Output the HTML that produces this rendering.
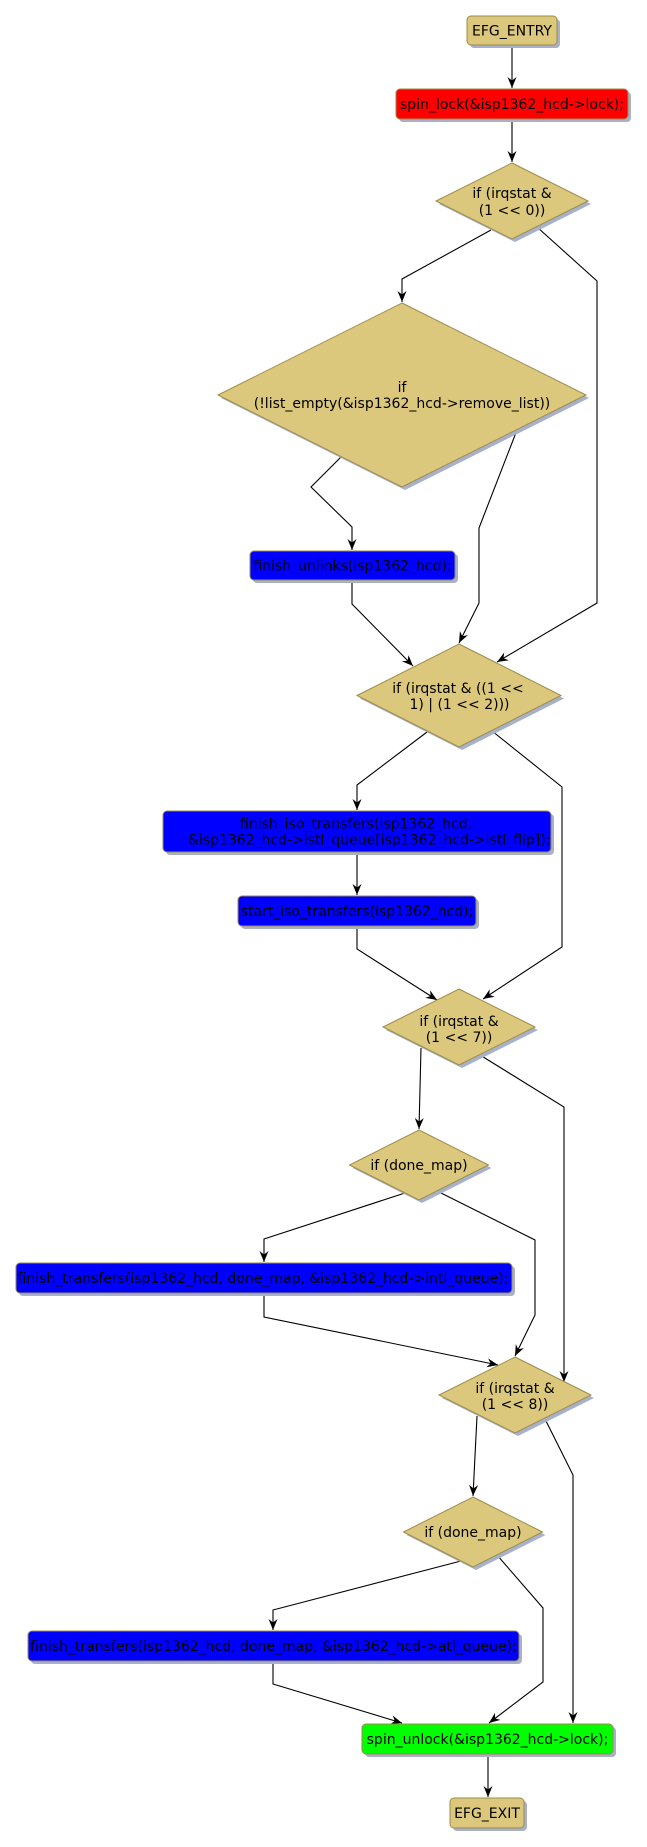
<!DOCTYPE html>
<html>
<head>
<meta charset="utf-8">
<style>
  html, body { margin: 0; padding: 0; background: #ffffff; }
  svg { display: block; }
  text { font-family: "DejaVu Sans", "Liberation Sans", sans-serif; font-size: 14px; fill: #000; }
  .sh { fill: #a7b1cc; stroke: none; }
  .kh { fill: #dbc87c; stroke: #9e8b47; stroke-width: 1; }
  .rd { fill: #ff0000; stroke: #9e8b47; stroke-width: 1; }
  .bl { fill: #0000ff; stroke: #9e8b47; stroke-width: 1; }
  .gr { fill: #00ff00; stroke: #9e8b47; stroke-width: 1; }
  .e { fill: none; stroke: #000; stroke-width: 1.1; marker-end: url(#ah); }
</style>
</head>
<body>
<svg width="647" height="1847" viewBox="0 0 647 1847" xmlns="http://www.w3.org/2000/svg">
  <defs>
    <marker id="ah" markerUnits="userSpaceOnUse" markerWidth="12" markerHeight="10" refX="11" refY="4.5" orient="auto">
      <path d="M0,0 L11,4.5 L0,9 L3.5,4.5 Z" fill="#000"/>
    </marker>
  </defs>

  <!-- Edges -->
  <polyline class="e" points="512,45 512,88"/>
  <polyline class="e" points="512,119 512,162"/>
  <polyline class="e" points="491,230 402,279 402,302"/>
  <polyline class="e" points="537,227 597,281 597,603 497,662"/>
  <polyline class="e" points="341,457 311,487 352,527 352,550"/>
  <polyline class="e" points="517,430 479,528 479,603 459,643"/>
  <polyline class="e" points="352,580 352,604 413,666"/>
  <polyline class="e" points="427,732 357,785 357,810"/>
  <polyline class="e" points="492,731 562,787 562,947 483,999"/>
  <polyline class="e" points="357,852 357,895"/>
  <polyline class="e" points="357,926 357,949 437,1000"/>
  <polyline class="e" points="421,1048 419,1129"/>
  <polyline class="e" points="480,1055 564,1107 564,1382"/>
  <polyline class="e" points="405,1193 264,1239 264,1262"/>
  <polyline class="e" points="437,1191 535,1240 535,1315 515,1356"/>
  <polyline class="e" points="264,1293 264,1317 498,1365"/>
  <polyline class="e" points="477,1416 473,1496"/>
  <polyline class="e" points="545,1419 573,1475 573,1723"/>
  <polyline class="e" points="461,1561 273,1610 273,1630"/>
  <polyline class="e" points="497,1555 543,1608 543,1682 489,1723"/>
  <polyline class="e" points="273,1661 273,1684 402,1723"/>
  <polyline class="e" points="488,1754 488,1797"/>

  <!-- EFG_ENTRY -->
  <rect class="sh" x="470" y="19" width="90" height="29" rx="4"/>
  <rect class="kh" x="467" y="16" width="90" height="29" rx="4"/>
  <text x="512" y="35.5" text-anchor="middle">EFG_ENTRY</text>

  <!-- spin_lock -->
  <rect class="sh" x="399" y="92" width="232" height="30" rx="4"/>
  <rect class="rd" x="396" y="89" width="232" height="30" rx="4"/>
  <text x="512" y="109" text-anchor="middle">spin_lock(&amp;isp1362_hcd-&gt;lock);</text>

  <!-- Diamond 1 -->
  <polygon class="sh" points="515,166 591,204 515,242 439,204"/>
  <polygon class="kh" points="512,163 588,201 512,239 436,201"/>
  <text x="512" y="198" text-anchor="middle">if (irqstat &amp;</text>
  <text x="512" y="215" text-anchor="middle">(1 &lt;&lt; 0))</text>

  <!-- Diamond 2 -->
  <polygon class="sh" points="405,306 589,398 405,490 221,398"/>
  <polygon class="kh" points="402,303 586,395 402,487 218,395"/>
  <text x="402" y="392" text-anchor="middle">if</text>
  <text x="402" y="408" text-anchor="middle">(!list_empty(&amp;isp1362_hcd-&gt;remove_list))</text>

  <!-- finish_unlinks -->
  <rect class="sh" x="253" y="554" width="205" height="29" rx="4"/>
  <rect class="bl" x="250" y="551" width="205" height="29" rx="4"/>
  <text x="352.5" y="570.5" text-anchor="middle">finish_unlinks(isp1362_hcd);</text>

  <!-- Diamond 3 -->
  <polygon class="sh" points="462,647 564,698.5 462,750 360,698.5"/>
  <polygon class="kh" points="459,644 561,695.5 459,747 357,695.5"/>
  <text x="458" y="693" text-anchor="middle">if (irqstat &amp; ((1 &lt;&lt;</text>
  <text x="459.5" y="709" text-anchor="middle">1) | (1 &lt;&lt; 2)))</text>

  <!-- finish_iso_transfers -->
  <rect class="sh" x="166" y="814" width="388" height="41" rx="4"/>
  <rect class="bl" x="163" y="811" width="388" height="41" rx="4"/>
  <text x="356" y="828.5" text-anchor="middle">finish_iso_transfers(isp1362_hcd,</text>
  <text x="188" y="844.5">&amp;isp1362_hcd-&gt;istl_queue[isp1362_hcd-&gt;istl_flip]);</text>

  <!-- start_iso_transfers -->
  <rect class="sh" x="241" y="899" width="238" height="30" rx="4"/>
  <rect class="bl" x="238" y="896" width="238" height="30" rx="4"/>
  <text x="357" y="916" text-anchor="middle">start_iso_transfers(isp1362_hcd);</text>

  <!-- Diamond 4 -->
  <polygon class="sh" points="462,992 538,1030 462,1068 386,1030"/>
  <polygon class="kh" points="459,989 535,1027 459,1065 383,1027"/>
  <text x="459" y="1026" text-anchor="middle">if (irqstat &amp;</text>
  <text x="459" y="1042" text-anchor="middle">(1 &lt;&lt; 7))</text>

  <!-- Diamond 5 -->
  <polygon class="sh" points="422,1133 491.5,1168 422,1203 352.5,1168"/>
  <polygon class="kh" points="419,1130 488.5,1165 419,1200 349.5,1165"/>
  <text x="419" y="1170" text-anchor="middle">if (done_map)</text>

  <!-- finish_transfers intl -->
  <rect class="sh" x="19" y="1266" width="496" height="30" rx="4"/>
  <rect class="bl" x="16" y="1263" width="496" height="30" rx="4"/>
  <text x="263" y="1283" text-anchor="middle">finish_transfers(isp1362_hcd, done_map, &amp;isp1362_hcd-&gt;intl_queue);</text>

  <!-- Diamond 6 -->
  <polygon class="sh" points="518,1360 594,1398 518,1436 442,1398"/>
  <polygon class="kh" points="515,1357 591,1395 515,1433 439,1395"/>
  <text x="515" y="1393" text-anchor="middle">if (irqstat &amp;</text>
  <text x="515" y="1409" text-anchor="middle">(1 &lt;&lt; 8))</text>

  <!-- Diamond 7 -->
  <polygon class="sh" points="476,1500 545.5,1535 476,1570 406.5,1535"/>
  <polygon class="kh" points="473,1497 542.5,1532 473,1567 403.5,1532"/>
  <text x="473" y="1537" text-anchor="middle">if (done_map)</text>

  <!-- finish_transfers atl -->
  <rect class="sh" x="31" y="1634" width="491" height="30" rx="4"/>
  <rect class="bl" x="28" y="1631" width="491" height="30" rx="4"/>
  <text x="273.5" y="1651" text-anchor="middle">finish_transfers(isp1362_hcd, done_map, &amp;isp1362_hcd-&gt;atl_queue);</text>

  <!-- spin_unlock -->
  <rect class="sh" x="365" y="1727" width="251" height="30" rx="4"/>
  <rect class="gr" x="362" y="1724" width="251" height="30" rx="4"/>
  <text x="487.5" y="1744" text-anchor="middle">spin_unlock(&amp;isp1362_hcd-&gt;lock);</text>

  <!-- EFG_EXIT -->
  <rect class="sh" x="453" y="1801" width="74" height="30" rx="4"/>
  <rect class="kh" x="450" y="1798" width="74" height="30" rx="4"/>
  <text x="487" y="1818" text-anchor="middle">EFG_EXIT</text>
</svg>
</body>
</html>
